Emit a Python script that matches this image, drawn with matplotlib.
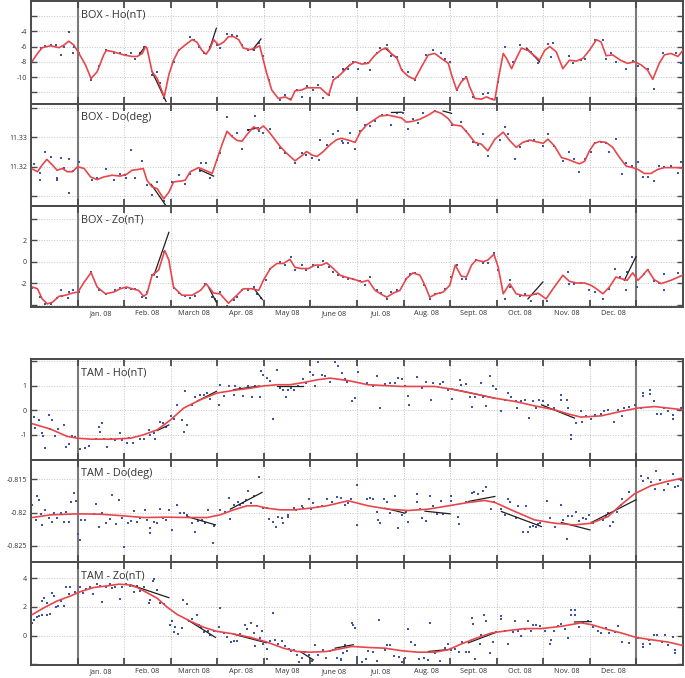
import matplotlib
matplotlib.use("Agg")
import matplotlib.pyplot as plt
from matplotlib.transforms import blended_transform_factory

MONTHS = ["Jan. 08", "Feb. 08", "March 08", "Apr. 08", "May 08", "June 08",
          "Jul. 08", "Aug. 08", "Sept. 08", "Oct. 08", "Nov. 08", "Dec. 08"]
TITLES = ["BOX - Ho(nT)", "BOX - Do(deg)", "BOX - Zo(nT)",
          "TAM - Ho(nT)", "TAM - Do(deg)", "TAM - Zo(nT)"]

# ---------------- BOX Ho ----------------
BOX_HO_CURVE = [(-0.97,-7.9),(-0.86,-6.9),(-0.76,-6.15),(-0.58,-5.9),(-0.4,-6.15),(-0.29,-5.8),(-0.19,-5.3),(-0.08,-5.8),
 (0.03,-6.9),(0.17,-8.4),(0.29,-10.2),(0.42,-9.3),(0.56,-7.1),(0.62,-6.5),(0.78,-6.7),(0.99,-7.1),(1.17,-7.3),(1.28,-7.3),
 (1.39,-6.9),(1.46,-6.0),(1.49,-6.2),(1.6,-9.3),(1.71,-10.2),(1.86,-12.6),(1.96,-9.7),(2.06,-7.8),(2.17,-6.5),(2.31,-5.8),
 (2.46,-5.1),(2.56,-5.4),(2.67,-6.5),(2.76,-7.0),(2.85,-6.2),(2.92,-5.1),(3.03,-5.8),(3.14,-5.4),(3.24,-4.7),(3.35,-4.7),
 (3.46,-5.1),(3.56,-6.2),(3.71,-6.4),(3.81,-6.2),(3.91,-5.9),(3.99,-7.8),(4.06,-9.5),(4.17,-11.7),(4.31,-12.8),(4.46,-12.6),
 (4.58,-13.0),(4.67,-11.8),(4.81,-11.7),(4.92,-11.4),(5.06,-11.4),(5.21,-11.4),(5.39,-12.4),(5.49,-10.4),(5.64,-9.7),
 (5.85,-8.4),(5.96,-8.0),(6.1,-8.3),(6.24,-8.2),(6.39,-7.1),(6.53,-6.4),(6.64,-6.2),(6.74,-7.0),(6.85,-7.4),(6.96,-9.1),
 (7.1,-9.9),(7.24,-10.3),(7.39,-8.6),(7.53,-7.1),(7.67,-6.9),(7.81,-7.55),(7.96,-8.2),(8.03,-9.7),(8.14,-11.7),(8.24,-10.6),
 (8.35,-10.0),(8.42,-11.3),(8.53,-12.8),(8.67,-12.9),(8.78,-12.6),(8.89,-12.9),(8.96,-13.0),(9.03,-10.4),(9.14,-6.9),
 (9.21,-7.55),(9.32,-8.9),(9.42,-7.55),(9.53,-6.2),(9.67,-6.5),(9.81,-7.2),(9.92,-7.8),(10.03,-6.5),(10.14,-6.0),(10.28,-6.7),
 (10.42,-8.9),(10.56,-7.8),(10.71,-7.9),(10.85,-7.55),(10.99,-6.5),(11.14,-5.1),(11.24,-5.4),(11.35,-7.2),(11.49,-7.1),
 (11.66,-7.8),(11.81,-8.2),(11.96,-8.0),(12.1,-8.4),(12.24,-9.1),(12.35,-10.3),(12.49,-8.2),(12.6,-7.1),(12.74,-6.9),
 (12.89,-7.3),(13.0,-6.5)]
BOX_HO_DOTS = [(-0.97,-8.0),(-0.79,-6.2),(-0.69,-5.9),(-0.58,-5.8),(-0.47,-5.8),(-0.36,-7.1),(-0.29,-6.0),(-0.19,-4.1),
 (-0.08,-6.0),(-0.09,-6.8),(0.03,-6.9),(0.28,-10.4),(0.46,-8.6),(0.6,-6.5),(0.78,-6.9),(0.92,-6.9),(1.03,-7.1),(1.15,-6.8),
 (1.24,-7.6),(1.35,-6.9),(1.42,-6.0),(1.6,-9.7),(1.71,-9.3),(1.78,-10.8),(1.86,-12.8),(2.06,-8.0),(2.17,-6.5),(2.42,-4.8),
 (2.49,-5.1),(2.6,-6.0),(2.71,-6.9),(2.85,-6.0),(2.99,-5.8),(3.06,-6.2),(3.21,-4.3),(3.31,-4.5),(3.42,-4.6),(3.53,-5.8),
 (3.67,-6.5),(3.78,-6.5),(3.89,-5.6),(3.99,-7.3),(4.1,-10.4),(4.35,-13.0),(4.46,-12.4),(4.56,-12.9),(4.71,-11.7),(4.81,-12.6),
 (4.92,-11.2),(5.06,-11.7),(5.17,-11.1),(5.26,-12.8),(5.39,-12.4),(5.49,-10.0),(5.6,-10.0),(5.71,-8.9),(5.81,-8.9),(5.92,-8.0),
 (6.03,-8.9),(6.17,-8.2),(6.24,-8.2),(6.28,-9.1),(6.42,-6.9),(6.49,-6.2),(6.64,-5.8),(6.74,-7.3),(6.85,-7.4),(6.96,-9.1),
 (7.1,-9.3),(7.24,-10.4),(7.49,-7.1),(7.64,-6.5),(7.81,-6.9),(7.88,-7.6),(7.99,-8.0),(8.14,-11.7),(8.28,-10.2),(8.35,-10.0),
 (8.49,-12.6),(8.71,-12.2),(8.81,-12.1),(8.89,-12.9),(9.03,-10.6),(9.17,-6.1),(9.35,-8.0),(9.49,-5.8),(9.64,-6.4),(9.74,-6.7),
 (9.89,-8.2),(10.1,-5.7),(10.21,-5.6),(10.17,-7.4),(10.56,-7.3),(10.64,-8.2),(10.8,-7.7),(10.89,-7.6),(11.1,-5.2),(11.28,-5.1),
 (11.35,-7.6),(11.46,-6.9),(11.56,-8.0),(11.78,-8.9),(11.92,-7.9),(12.03,-8.6),(12.24,-8.9),(12.38,-11.5),(12.56,-6.9),
 (12.85,-6.9),(12.96,-8.2)]
BOX_HO_TRENDS = [(1.6,-9.3,1.9,-13.2),(2.83,-6.4,2.98,-3.6),(3.76,-6.4,3.94,-5.0),(1.33,-7.0,1.45,-6.0),
 (9.64,-6.2,9.92,-8.0),(6.6,-6.2,6.85,-7.5),(5.7,-9.2,5.85,-8.4)]

# ---------------- BOX Do ----------------
BOX_DO_CURVE = [(-0.97,11.3192),(-0.86,11.3183),(-0.76,11.3206),(-0.66,11.3225),(-0.54,11.3206),(-0.44,11.3188),
 (-0.33,11.3194),(-0.22,11.3183),(-0.11,11.3183),(0.0,11.32),(0.14,11.3194),(0.28,11.3165),(0.42,11.3156),(0.56,11.3165),
 (0.74,11.3171),(0.92,11.3168),(1.06,11.3175),(1.17,11.3188),(1.31,11.3191),(1.41,11.3194),(1.49,11.3154),(1.6,11.3131),
 (1.71,11.3125),(1.85,11.309),(1.96,11.3113),(2.06,11.3148),(2.21,11.3151),(2.31,11.3154),(2.42,11.3183),(2.6,11.3197),
 (2.74,11.3188),(2.89,11.3177),(2.99,11.3223),(3.1,11.3275),(3.21,11.3321),(3.31,11.3304),(3.42,11.329),(3.53,11.3287),
 (3.64,11.331),(3.78,11.3336),(3.89,11.3327),(3.99,11.3339),(4.1,11.3321),(4.24,11.3292),(4.35,11.3269),(4.49,11.3246),
 (4.67,11.322),(4.81,11.3237),(4.92,11.3252),(5.03,11.324),(5.14,11.3235),(5.28,11.3252),(5.42,11.3275),(5.56,11.3292),
 (5.67,11.3297),(5.85,11.3289),(5.96,11.3283),(6.07,11.3318),(6.21,11.3343),(6.35,11.3358),(6.49,11.3373),(6.67,11.3376),
 (6.85,11.337),(6.96,11.3366),(7.06,11.3352),(7.2,11.3355),(7.35,11.3362),(7.53,11.3376),(7.67,11.339),(7.81,11.3382),
 (7.96,11.3364),(8.06,11.3343),(8.24,11.3339),(8.39,11.3312),(8.53,11.3283),(8.67,11.3277),(8.81,11.3254),(8.96,11.3294),
 (9.14,11.3318),(9.28,11.3289),(9.42,11.3266),(9.56,11.3283),(9.71,11.3291),(9.85,11.3285),(10.0,11.328),(10.1,11.3294),
 (10.24,11.3271),(10.39,11.3231),(10.53,11.3225),(10.67,11.3216),(10.78,11.321),(10.89,11.3219),(10.99,11.3254),
 (11.1,11.328),(11.21,11.3286),(11.35,11.3283),(11.49,11.3266),(11.64,11.3231),(11.78,11.3202),(11.92,11.3197),
 (12.03,11.3191),(12.17,11.3177),(12.31,11.3177),(12.46,11.3191),(12.6,11.3197),(12.74,11.3197),(12.89,11.3197),(13.0,11.3194)]
BOX_DO_DOTS = [(-0.94,11.3209),(-0.81,11.3177),(-0.81,11.3154),(-0.7,11.3249),(-0.58,11.3232),(-0.45,11.316),(-0.45,11.3154),
 (-0.36,11.3229),(-0.29,11.3194),(-0.19,11.3225),(-0.19,11.311),(-0.1,11.3186),(0.03,11.3216),(0.31,11.3156),(0.42,11.3163),
 (0.6,11.3193),(0.78,11.3156),(0.92,11.3175),(1.01,11.3171),(1.03,11.316),(1.15,11.3258),(1.24,11.3163),(1.39,11.3221),
 (1.49,11.3136),(1.6,11.3102),(1.71,11.3148),(1.85,11.3084),(2.03,11.3148),(2.17,11.3171),(2.31,11.314),(2.42,11.3175),
 (2.64,11.3214),(2.62,11.3186),(2.76,11.3214),(2.85,11.3163),(2.99,11.3223),(3.06,11.3246),(3.21,11.3371),(3.31,11.3304),
 (3.42,11.3316),(3.53,11.326),(3.67,11.3325),(3.81,11.3373),(3.89,11.3321),(3.99,11.3316),(4.14,11.333),(4.35,11.3264),
 (4.46,11.3246),(4.67,11.3212),(4.81,11.3246),(4.91,11.324),(5.03,11.3229),(5.18,11.3223),(5.21,11.3292),(5.35,11.3275),
 (5.49,11.331),(5.6,11.3321),(5.71,11.3281),(5.81,11.3281),(5.67,11.3287),(5.85,11.3316),(5.96,11.326),(6.07,11.3321),
 (6.17,11.3344),(6.28,11.3339),(6.39,11.3356),(6.53,11.3376),(6.64,11.3376),(6.74,11.3344),(6.85,11.3385),(6.99,11.3383),
 (7.1,11.333),(7.2,11.3362),(7.31,11.3348),(7.42,11.3383),(7.67,11.3391),(7.89,11.3414),(8.03,11.3344),(8.24,11.3352),
 (8.35,11.3321),(8.49,11.3283),(8.6,11.3275),(8.71,11.331),(8.81,11.3237),(9.06,11.3292),(9.17,11.3336),(9.24,11.331),
 (9.39,11.3225),(9.49,11.3267),(9.67,11.3287),(9.81,11.329),(9.99,11.3272),(10.1,11.3313),(10.24,11.3272),(10.42,11.3218),
 (10.56,11.325),(10.66,11.3225),(10.77,11.3183),(10.89,11.3225),(11.03,11.3249),(11.1,11.3281),(11.24,11.3283),
 (11.35,11.3281),(11.42,11.3249),(11.56,11.3295),(11.69,11.3175),(11.78,11.3214),(11.91,11.3202),(12.03,11.3217),
 (12.14,11.3165),(12.24,11.3165),(12.38,11.315),(12.49,11.3202),(12.6,11.32),(12.74,11.3202),(12.89,11.3179),(12.96,11.3217)]
BOX_DO_TRENDS = [(1.58,11.3140,1.92,11.3062),(2.62,11.3190,2.92,11.3168),(3.66,11.3325,3.88,11.3333),
 (6.74,11.3385,6.96,11.3386),(7.85,11.3390,8.03,11.3382)]

# ---------------- BOX Zo ----------------
BOX_ZO_CURVE = [(-0.97,-2.34),(-0.86,-2.5),(-0.76,-3.44),(-0.65,-3.9),(-0.54,-3.75),(-0.4,-3.2),(-0.26,-3.1),(-0.11,-2.9),
 (0.01,-2.8),(0.14,-1.9),(0.29,-1.0),(0.42,-2.34),(0.6,-2.97),(0.78,-2.8),(0.92,-2.5),(1.05,-2.34),(1.17,-2.5),(1.31,-2.65),
 (1.42,-3.2),(1.49,-2.97),(1.6,-1.25),(1.74,-0.78),(1.87,1.03),(1.96,0.16),(2.06,-2.34),(2.24,-3.1),(2.46,-3.1),(2.64,-2.65),
 (2.76,-2.03),(2.92,-2.9),(3.06,-2.97),(3.24,-3.84),(3.42,-3.1),(3.56,-2.5),(3.74,-2.5),(3.89,-2.65),(3.99,-1.72),(4.14,-0.63),
 (4.28,-0.16),(4.42,-0.16),(4.56,0.22),(4.67,-0.53),(4.81,-0.63),(4.96,-0.63),(5.1,-0.31),(5.24,-0.31),(5.35,-0.1),
 (5.49,-0.63),(5.64,-1.25),(5.74,-1.4),(5.96,-1.66),(6.1,-1.88),(6.24,-1.72),(6.39,-2.66),(6.53,-3.03),(6.64,-3.28),
 (6.78,-2.9),(6.92,-2.66),(7.06,-1.56),(7.2,-1.03),(7.35,-1.25),(7.46,-2.19),(7.56,-3.28),(7.71,-2.97),(7.85,-2.81),
 (7.99,-2.19),(8.11,-0.31),(8.24,-1.34),(8.35,-1.41),(8.46,-0.31),(8.56,0.16),(8.71,0.0),(8.81,0.16),(8.94,0.69),(9.03,-0.47),
 (9.14,-2.97),(9.28,-2.03),(9.42,-2.97),(9.56,-3.13),(9.71,-3.13),(9.89,-2.91),(10.06,-3.44),(10.21,-2.5),(10.42,-1.25),
 (10.56,-1.81),(10.71,-1.97),(10.89,-1.97),(11.03,-2.19),(11.14,-2.5),(11.28,-2.97),(11.42,-2.34),(11.56,-1.41),(11.67,-1.56),
 (11.8,-1.72),(11.92,-1.03),(12.03,-1.72),(12.14,-1.25),(12.24,-0.72),(12.38,-1.66),(12.53,-2.03),(12.74,-1.72),(12.99,-1.25)]
BOX_ZO_DOTS = [(-0.97,-2.4),(-0.81,-3.28),(-0.69,-3.9),(-0.58,-3.9),(-0.45,-3.34),(-0.35,-2.66),(-0.33,-3.13),(-0.21,-3.34),
 (-0.19,-2.81),(-0.09,-2.6),(0.03,-2.81),(0.29,-0.94),(0.46,-2.6),(0.6,-2.97),(0.81,-2.66),(0.92,-2.41),(1.03,-2.41),
 (1.15,-2.56),(1.24,-2.56),(1.39,-3.22),(1.46,-3.34),(1.49,-2.81),(1.6,-1.25),(1.71,-1.41),(1.85,0.94),(2.06,-2.41),
 (2.17,-2.9),(2.31,-3.13),(2.42,-3.34),(2.53,-3.13),(2.74,-2.03),(2.89,-3.22),(2.96,-3.44),(3.06,-2.81),(3.21,-4.06),
 (3.35,-3.53),(3.42,-3.22),(3.53,-2.6),(3.67,-2.6),(3.79,-2.34),(3.85,-2.97),(3.94,-3.34),(4.04,-1.72),(4.14,-0.63),
 (4.35,0.0),(4.46,-0.31),(4.58,0.47),(4.67,-0.78),(4.81,-0.31),(4.91,-0.78),(5.06,-0.31),(5.17,-0.53),(5.26,0.09),
 (5.39,-0.47),(5.49,-0.94),(5.6,-1.25),(5.71,-1.41),(5.81,-1.56),(5.92,-1.56),(6.07,-1.78),(6.17,-2.19),(6.28,-1.41),
 (6.42,-2.66),(6.51,-2.9),(6.64,-3.44),(6.74,-2.81),(6.85,-2.66),(7.06,-1.56),(7.14,-1.16),(7.24,-1.03),(7.44,-2.19),
 (7.56,-3.44),(7.67,-2.97),(7.78,-2.9),(7.89,-2.5),(8.01,-1.41),(8.14,-0.31),(8.26,-1.56),(8.35,-1.56),(8.56,0.16),
 (8.71,-0.09),(8.81,-0.09),(8.94,0.78),(9.03,-0.72),(9.17,-3.44),(9.28,-1.72),(9.28,-2.34),(9.49,-3.13),(9.6,-2.97),
 (9.73,-3.59),(9.85,-2.97),(10.09,-3.59),(10.53,-0.94),(10.56,-2.03),(10.67,-2.03),(10.81,-1.97),(10.99,-2.66),(11.1,-2.81),
 (11.28,-3.44),(11.42,-2.5),(11.54,-0.63),(11.64,-1.41),(11.78,-2.6),(11.8,-0.94),(11.91,0.47),(12.01,-2.34),(12.16,-1.09),
 (12.24,-0.72),(12.38,-1.78),(12.49,-1.97),(12.6,-2.6),(12.6,-1.09),(12.89,-1.03),(12.99,-1.25)]
BOX_ZO_TRENDS = [(1.64,-1.25,1.96,2.72),(2.81,-2.34,2.98,-3.75),(3.79,-2.5,3.97,-3.5),(9.67,-3.44,9.99,-1.88),
 (11.74,-1.72,11.99,0.47)]

# ---------------- TAM Ho ----------------
TAM_HO_CURVE = [(-0.97,-0.54),(-0.58,-0.76),(-0.22,-1.06),(0.0,-1.13),(0.28,-1.17),(0.71,-1.17),(1.14,-1.13),(1.42,-0.99),
 (1.71,-0.79),(2.0,-0.38),(2.28,0.1),(2.64,0.44),(2.99,0.71),(3.35,0.82),(3.71,0.91),(3.99,1.0),(4.28,1.05),(4.56,1.05),
 (4.85,1.14),(5.14,1.25),(5.42,1.32),(5.81,1.22),(6.24,1.05),(6.96,0.98),(7.67,0.98),(8.03,0.87),(8.53,0.68),(8.96,0.5),
 (9.39,0.37),(9.81,0.19),(10.24,0.03),(10.53,-0.14),(10.81,-0.27),(11.24,-0.22),(11.66,-0.04),(12.03,0.1),(12.39,0.16),(13.0,0.03)]
TAM_HO_DOTS = [(-0.94,-0.27),(-0.91,-0.72),(-0.83,-0.38),(-0.76,-0.93),(-0.74,-1.06),(-0.69,-1.54),(-0.61,-0.18),(-0.59,-0.76),
 (-0.54,-0.38),(-0.49,-1.03),(-0.41,-0.76),(-0.3,-0.59),(-0.24,-1.47),(-0.19,-1.36),(-0.11,-1.06),(-0.06,-1.09),(0.06,-1.58),
 (0.17,-1.54),(0.24,-1.44),(0.39,-1.17),(0.46,-0.68),(0.48,-0.86),(0.53,-0.52),(0.56,-1.17),(0.64,-1.47),(0.71,-1.17),
 (0.81,-1.2),(0.92,-0.93),(0.96,-1.2),(1.06,-1.33),(1.1,-1.13),(1.19,-1.33),(1.35,-1.17),(1.42,-1.17),(1.53,-0.79),
 (1.56,-0.99),(1.64,-0.9),(1.67,-1.17),(1.76,-0.45),(1.84,-0.52),(1.89,-0.68),(2.0,-0.24),(2.06,-0.35),(2.14,0.23),
 (2.24,-0.38),(2.28,-0.86),(2.31,0.78),(2.34,-0.59),(2.46,0.23),(2.53,0.54),(2.62,0.64),(2.71,0.64),(2.78,0.71),(2.85,0.46),
 (3.04,0.23),(3.06,1.05),(3.15,0.6),(3.26,1.01),(3.35,0.64),(3.39,0.98),(3.49,0.91),(3.56,0.6),(3.66,0.98),(3.74,0.54),
 (3.81,0.98),(3.91,0.57),(3.94,1.63),(3.98,1.46),(4.06,1.32),(4.14,1.22),(4.2,-0.35),(4.28,1.66),(4.35,0.91),(4.42,0.84),
 (4.48,0.57),(4.51,0.84),(4.58,0.91),(4.64,0.84),(4.74,0.98),(4.85,1.28),(4.91,1.14),(4.99,1.59),(5.06,1.46),(5.1,0.98),
 (5.17,1.96),(5.24,1.46),(5.31,1.39),(5.42,1.18),(5.53,1.96),(5.6,1.8),(5.68,1.52),(5.74,1.28),(5.78,1.18),(5.89,0.37),
 (5.96,0.5),(6.03,1.59),(6.21,1.12),(6.35,1.01),(6.42,1.41),(6.49,0.1),(6.6,1.09),(6.71,1.12),(6.81,1.14),(6.89,1.32),
 (6.96,1.28),(7.03,1.01),(7.1,0.6),(7.11,0.23),(7.28,1.36),(7.4,0.91),(7.49,1.18),(7.59,0.44),(7.64,1.14),(7.79,1.09),
 (7.85,1.18),(7.96,0.84),(8.03,0.46),(8.21,1.25),(8.24,1.05),(8.35,1.09),(8.42,0.57),(8.47,0.16),(8.53,0.57),(8.66,1.14),
 (8.71,0.54),(8.78,0.19),(8.85,1.41),(8.92,1.01),(8.99,0.87),(9.1,-0.04),(9.17,0.44),(9.24,0.71),(9.31,0.54),(9.42,0.37),
 (9.44,0.1),(9.53,0.37),(9.6,0.41),(9.69,-0.31),(9.78,0.37),(9.85,0.1),(9.9,0.44),(9.99,0.37),(10.1,0.23),(10.16,0.05),
 (10.24,0.1),(10.39,0.64),(10.39,0.44),(10.51,0.41),(10.53,0.1),(10.6,-0.99),(10.6,-1.17),(10.71,-0.52),(10.8,-0.04),
 (10.83,-0.45),(10.92,-0.24),(11.03,-0.35),(11.1,-0.18),(11.24,-0.14),(11.3,-0.04),(11.39,0.0),(11.51,-0.49),(11.6,0.0),
 (11.69,-0.22),(11.74,0.1),(11.85,0.14),(11.96,0.23),(12.09,0.1),(12.14,0.73),(12.14,0.6),(12.3,0.84),(12.3,0.68),
 (12.37,0.37),(12.44,-0.14),(12.53,-0.14),(12.6,0.1),(12.67,-0.04),(12.78,-0.35),(12.78,-0.18),(12.89,0.03),(12.96,0.1)]
TAM_HO_TRENDS = [(1.71,-0.82,1.96,-0.59),(2.56,0.37,2.98,0.78),(3.35,0.85,3.91,1.0),(4.28,0.98,4.85,0.98),
 (8.03,0.88,8.96,0.5),(9.96,0.23,10.67,-0.31)]

# ---------------- TAM Do ----------------
TAM_DO_CURVE = [(-0.97,-0.82075),(-0.58,-0.82035),(0.0,-0.8202),(0.49,-0.82025),(0.99,-0.8205),(1.42,-0.82075),(1.92,-0.8207),
 (2.42,-0.82075),(2.78,-0.82075),(3.06,-0.82035),(3.35,-0.8196),(3.64,-0.819),(3.85,-0.819),(4.06,-0.81935),(4.35,-0.8196),
 (4.64,-0.8196),(5.0,-0.81935),(5.35,-0.819),(5.81,-0.81825),(6.24,-0.819),(6.67,-0.8195),(7.1,-0.8197),(7.53,-0.8195),
 (7.96,-0.819),(8.39,-0.8185),(8.74,-0.8182),(8.96,-0.8185),(9.39,-0.81985),(9.81,-0.8211),(10.24,-0.8216),(10.67,-0.82185),
 (11.03,-0.8216),(11.39,-0.8206),(11.67,-0.81885),(11.96,-0.8172),(12.31,-0.816),(12.66,-0.81535),(12.99,-0.81485)]
TAM_DO_DOTS = [(-0.97,-0.81885),(-0.9,-0.8211),(-0.87,-0.8176),(-0.83,-0.8181),(-0.78,-0.8202),(-0.76,-0.82185),
 (-0.69,-0.8196),(-0.61,-0.82085),(-0.54,-0.82135),(-0.51,-0.8201),(-0.44,-0.82085),(-0.36,-0.8201),(-0.29,-0.82135),
 (-0.24,-0.81985),(-0.19,-0.82135),(-0.15,-0.8185),(-0.08,-0.8171),(-0.04,-0.81835),(0.01,-0.8232),(0.05,-0.8241),
 (0.08,-0.8211),(0.17,-0.8211),(0.35,-0.8202),(0.39,-0.8188),(0.46,-0.8222),(0.53,-0.82),(0.6,-0.8215),(0.69,-0.821),
 (0.74,-0.81735),(0.82,-0.8217),(0.89,-0.8181),(0.96,-0.82085),(0.99,-0.8252),(1.09,-0.8215),(1.14,-0.8212),(1.21,-0.81975),
 (1.28,-0.82135),(1.35,-0.82085),(1.44,-0.8197),(1.49,-0.8211),(1.55,-0.8231),(1.56,-0.82235),(1.64,-0.82135),(1.71,-0.8215),
 (1.76,-0.8195),(1.84,-0.82085),(1.89,-0.8211),(1.96,-0.8196),(2.03,-0.8226),(2.14,-0.81885),(2.21,-0.82),(2.28,-0.82),
 (2.35,-0.82035),(2.46,-0.8215),(2.53,-0.82285),(2.58,-0.8212),(2.67,-0.8211),(2.74,-0.8215),(2.81,-0.8196),(2.91,-0.8245),
 (2.92,-0.822),(3.06,-0.8196),(3.17,-0.81985),(3.26,-0.81785),(3.28,-0.821),(3.35,-0.81885),(3.44,-0.8185),(3.49,-0.81885),
 (3.56,-0.8186),(3.62,-0.8182),(3.67,-0.81685),(3.72,-0.8186),(3.79,-0.8176),(3.89,-0.8147),(3.99,-0.81935),(4.06,-0.81935),
 (4.12,-0.821),(4.19,-0.82135),(4.26,-0.8222),(4.31,-0.8207),(4.39,-0.82085),(4.42,-0.8215),(4.51,-0.8206),(4.51,-0.82035),
 (4.64,-0.81935),(4.69,-0.8197),(4.81,-0.819),(4.85,-0.81935),(4.96,-0.818),(5.01,-0.8195),(5.06,-0.8186),(5.17,-0.8192),
 (5.24,-0.819),(5.35,-0.818),(5.46,-0.8185),(5.56,-0.8177),(5.66,-0.81785),(5.74,-0.81885),(5.81,-0.8186),(5.88,-0.818),
 (5.99,-0.81585),(6.01,-0.82185),(6.21,-0.818),(6.28,-0.81785),(6.35,-0.818),(6.42,-0.81985),(6.46,-0.8211),(6.49,-0.8215),
 (6.59,-0.818),(6.64,-0.8185),(6.71,-0.82),(6.81,-0.8176),(6.87,-0.82235),(6.96,-0.82035),(7.06,-0.81985),(7.1,-0.82135),
 (7.28,-0.8172),(7.28,-0.8185),(7.35,-0.8195),(7.4,-0.82085),(7.49,-0.8212),(7.56,-0.8175),(7.64,-0.819),(7.71,-0.8202),
 (7.8,-0.81835),(7.85,-0.8202),(8.01,-0.8175),(8.01,-0.81835),(8.17,-0.8206),(8.18,-0.8217),(8.35,-0.8185),(8.46,-0.8171),
 (8.51,-0.817),(8.6,-0.8172),(8.71,-0.81685),(8.78,-0.8162),(8.87,-0.8195),(8.94,-0.8185),(9.1,-0.8195),(9.17,-0.82035),
 (9.24,-0.818),(9.28,-0.8185),(9.42,-0.82085),(9.46,-0.819),(9.56,-0.82285),(9.63,-0.819),(9.67,-0.82285),(9.71,-0.8222),
 (9.78,-0.822),(9.85,-0.8222),(9.89,-0.8217),(9.94,-0.8216),(10.09,-0.81835),(10.14,-0.82085),(10.26,-0.8222),
 (10.39,-0.81885),(10.42,-0.8211),(10.51,-0.824),(10.53,-0.8205),(10.61,-0.8205),(10.71,-0.81985),(10.76,-0.8212),
 (10.85,-0.82085),(10.92,-0.821),(10.99,-0.82035),(11.06,-0.8215),(11.28,-0.8211),(11.35,-0.8205),(11.39,-0.82),
 (11.44,-0.822),(11.49,-0.82135),(11.59,-0.81985),(11.66,-0.81885),(11.69,-0.818),(11.85,-0.817),(12.09,-0.8145),
 (12.14,-0.81535),(12.24,-0.81485),(12.31,-0.8155),(12.39,-0.8165),(12.42,-0.81385),(12.51,-0.8152),(12.6,-0.8166),
 (12.67,-0.8157),(12.78,-0.8142),(12.83,-0.8162),(12.89,-0.816),(12.96,-0.8151)]
TAM_DO_TRENDS = [(2.35,-0.8206,2.96,-0.82185),(3.28,-0.8195,3.96,-0.817),(6.6,-0.81935,7.03,-0.8201),
 (7.46,-0.8198,8.0,-0.8202),(8.39,-0.81835,8.96,-0.8176),(9.1,-0.81985,9.96,-0.8221),(10.39,-0.8215,11.0,-0.8226),
 (11.03,-0.8215,11.99,-0.8181)]

# ---------------- TAM Zo ----------------
TAM_ZO_CURVE = [(-0.97,1.47),(-0.72,1.94),(-0.44,2.41),(-0.15,2.76),(0.06,3.06),(0.35,3.35),(0.64,3.46),(0.89,3.58),(1.1,3.53),
 (1.28,3.35),(1.49,2.99),(1.71,2.6),(1.92,1.99),(2.14,1.47),(2.42,1.01),(2.71,0.58),(2.99,0.3),(3.35,0.12),(3.71,-0.12),
 (4.06,-0.44),(4.42,-0.87),(4.71,-1.1),(5.0,-1.15),(5.35,-1.1),(5.89,-0.75),(6.24,-0.82),(6.6,-0.87),(6.96,-1.05),(7.31,-1.15),
 (7.67,-1.15),(7.96,-0.98),(8.24,-0.58),(8.53,-0.21),(8.89,0.19),(9.24,0.35),(9.6,0.49),(9.96,0.49),(10.39,0.65),(10.81,0.89),
 (11.03,0.77),(11.39,0.42),(11.67,0.19),(11.99,-0.12),(12.31,-0.28),(12.67,-0.44),(12.99,-0.68)]
TAM_ZO_DOTS = [(-0.97,0.89),(-0.94,1.12),(-0.88,1.29),(-0.83,1.36),(-0.76,1.43),(-0.76,2.41),(-0.72,2.6),(-0.66,1.47),
 (-0.65,2.29),(-0.59,1.52),(-0.54,2.99),(-0.51,2.76),(-0.47,1.99),(-0.42,2.06),(-0.36,2.41),(-0.29,2.06),(-0.24,3.35),
 (-0.19,2.88),(-0.16,3.39),(-0.06,3.06),(0.05,3.35),(0.12,2.99),(0.19,3.23),(0.26,3.39),(0.34,2.92),(0.42,3.58),(0.49,3.46),
 (0.53,2.36),(0.6,3.39),(0.69,3.58),(0.74,3.3),(0.81,3.39),(0.91,2.53),(0.96,3.35),(1.03,3.58),(1.12,3.46),(1.21,3.06),
 (1.28,3.46),(1.35,3.11),(1.42,3.35),(1.54,2.29),(1.56,2.46),(1.62,3.77),(1.65,3.93),(1.71,3.16),(1.78,2.29),(1.85,2.18),
 (1.99,0.77),(2.03,1.01),(2.06,0.26),(2.1,0.58),(2.16,0.12),(2.24,0.54),(2.26,2.46),(2.35,2.18),(2.39,1.01),(2.46,1.19),
 (2.56,1.47),(2.6,0.73),(2.66,0.58),(2.72,0.26),(2.79,0.35),(2.84,0.07),(2.92,0.35),(3.04,0.58),(3.05,1.94),(3.14,0.19),
 (3.21,-0.12),(3.29,-0.44),(3.35,-0.35),(3.42,-0.4),(3.49,0.12),(3.6,0.77),(3.64,0.49),(3.72,0.89),(3.78,0.19),(3.81,-0.75),
 (3.85,0.65),(3.92,-0.16),(3.96,0.3),(3.99,-0.58),(4.06,-1.61),(4.06,-0.91),(4.14,-0.4),(4.2,1.59),(4.24,-0.28),(4.31,-0.58),
 (4.39,-0.35),(4.46,-0.75),(4.53,-0.91),(4.58,-1.1),(4.64,-0.98),(4.71,-1.33),(4.76,-1.85),(4.81,-1.57),(4.89,-1.15),
 (4.96,-1.33),(5.03,-1.75),(5.1,-0.63),(5.17,-1.33),(5.26,-0.98),(5.34,-1.57),(5.42,-1.1),(5.49,-0.98),(5.56,-1.52),
 (5.65,-1.68),(5.71,-1.22),(5.78,-1.1),(5.66,-1.61),(5.74,-0.63),(5.89,0.89),(5.92,0.73),(5.96,0.54),(6.01,-1.45),
 (6.1,-1.85),(6.19,-1.61),(6.24,-1.1),(6.35,-1.15),(6.42,-1.75),(6.48,1.12),(6.6,-0.98),(6.64,-0.68),(6.71,-0.68),
 (6.8,-1.38),(6.91,-1.45),(6.96,-1.8),(7.03,-1.57),(7.09,0.49),(7.17,-0.44),(7.24,-0.68),(7.33,-1.61),(7.44,-1.52),
 (7.53,-1.68),(7.56,0.89),(7.67,-1.22),(7.78,-1.75),(7.89,-0.87),(7.96,-0.58),(8.01,-0.98),(8.11,-0.91),(8.19,-1.15),
 (8.26,-0.44),(8.33,-1.15),(8.41,-1.15),(8.46,1.24),(8.5,0.82),(8.53,-1.61),(8.64,-0.58),(8.67,0.02),(8.73,1.43),(8.78,1.01),
 (8.85,-1.22),(8.92,-0.44),(8.99,0.26),(9.09,1.36),(9.1,1.19),(9.17,0.35),(9.24,-0.58),(9.35,0.26),(9.4,1.01),(9.46,0.35),
 (9.53,-0.05),(9.6,0.49),(9.67,1.01),(9.73,0.3),(9.78,0.73),(9.85,0.73),(9.92,0.65),(10.03,0.3),(10.14,-0.58),(10.17,-0.28),
 (10.24,0.35),(10.31,0.65),(10.39,0.82),(10.46,0.49),(10.53,-0.16),(10.6,1.75),(10.6,1.43),(10.69,1.75),(10.69,1.43),
 (10.76,0.58),(10.86,0.89),(10.96,1.01),(11.06,0.58),(11.17,0.35),(11.24,0.19),(11.35,0.54),(11.42,0.19),(11.53,0.26),
 (11.6,0.65),(11.69,-0.44),(11.85,-0.51),(12.03,-0.16),(12.14,-0.58),(12.14,-0.82),(12.28,-0.28),(12.3,-0.58),(12.38,0.02),
 (12.44,0.07),(12.54,-0.44),(12.61,0.07),(12.67,-0.68),(12.78,-0.12),(12.83,-0.98),(12.83,-1.22)]
TAM_ZO_TRENDS = [(1.14,3.53,1.96,2.64),(2.35,1.12,2.96,-0.12),(3.35,0.1,4.06,-0.5),(4.78,-1.1,5.06,-1.68),
 (5.53,-0.87,5.92,-0.63),(7.53,-1.1,8.0,-0.95),(8.39,-0.5,8.96,0.2),(10.67,0.95,11.03,0.98)]

# y ranges, ticks and tick labels per panel
YLIMS = [(-13.53, -0.03), (11.3066, 11.3414), (-4.19, 5.16), (-2.02, 2.1), (-0.8274, -0.81215), (-2.04, 5.12)]
YTICKS = [[-12, -10, -8, -6, -4, -2], [11.31, 11.32, 11.33, 11.34], [-4, -2, 0, 2, 4],
          [-2, -1, 0, 1, 2], [-0.825, -0.82, -0.815], [-2, 0, 2, 4]]
YLABELS = [["", "-10", "-8", "-6", "-4", ""], ["", "11.32", "11.33", ""], ["", "-2", "0", "2", ""],
           ["", "-1", "0", "1", ""], ["-0.825", "-0.82", "-0.815"], ["", "0", "2", "4"]]

CURVES = [BOX_HO_CURVE, BOX_DO_CURVE, BOX_ZO_CURVE, TAM_HO_CURVE, TAM_DO_CURVE, TAM_ZO_CURVE]
DOTS = [BOX_HO_DOTS, BOX_DO_DOTS, BOX_ZO_DOTS, TAM_HO_DOTS, TAM_DO_DOTS, TAM_ZO_DOTS]
TRENDS = [BOX_HO_TRENDS, BOX_DO_TRENDS, BOX_ZO_TRENDS, TAM_HO_TRENDS, TAM_DO_TRENDS, TAM_ZO_TRENDS]

W, H = 685, 678
# panel pixel extents (top, bottom)
PANEL_PX = [(1, 104), (104, 206), (206, 307), (359, 460), (460, 562), (562, 665)]
LEFT_PX, RIGHT_PX = 31, 683

plt.rcParams['font.family'] = ['Open Sans', 'DejaVu Sans']
fig = plt.figure(figsize=(W / 100, H / 100), dpi=100)
FRAME = '#4a4a4a'
TXT = '#333333'

for i in range(6):
    top, bot = PANEL_PX[i]
    ax = fig.add_axes([LEFT_PX / W, 1 - bot / H, (RIGHT_PX - LEFT_PX) / W, (bot - top) / H])
    ax.set_xlim(-1, 13)
    ax.set_ylim(*YLIMS[i])
    # grid
    for m in range(1, 12):
        ax.axvline(m, color='#c4c4c4', lw=0.7, ls=(0, (1, 1.6)), zorder=0)
    for yv in YTICKS[i]:
        ax.axhline(yv, color='#c4c4c4', lw=0.7, ls=(0, (1, 1.6)), zorder=0)
    ax.axvline(0, color='#7a7a7a', lw=1.5, zorder=1)
    ax.axvline(12, color='#7a7a7a', lw=1.5, zorder=1)
    # data
    dx = [p[0] for p in DOTS[i]]
    dy = [p[1] for p in DOTS[i]]
    ax.scatter(dx, dy, s=4, marker='s', color='#3d55a8', linewidths=0, zorder=2)
    cx = [p[0] for p in CURVES[i]]
    cy = [p[1] for p in CURVES[i]]
    for (x0, y0, x1, y1) in TRENDS[i]:
        ax.plot([x0, x1], [y0, y1], color='#1e1e1e', lw=0.9, zorder=3)
    ax.plot(cx, cy, color='#e8464b', lw=1.2, zorder=4, solid_capstyle='round')
    # frame
    for sp in ax.spines.values():
        sp.set_color(FRAME)
        sp.set_linewidth(1.4)
    # ticks
    ax.set_xticks(range(0, 13))
    ax.set_xticklabels([])
    ax.tick_params(axis='x', which='major', direction='in', top=True, bottom=True,
                   length=5, width=1.3, color=FRAME)
    ax.set_yticks(YTICKS[i])
    ax.set_yticklabels(YLABELS[i])
    ax.tick_params(axis='y', which='major', direction='in', left=True, right=True,
                   length=4, width=1.0, color=FRAME, labelsize=5, labelcolor=TXT, pad=3)
    if i in (2, 5):
        ax.set_xticks([m + 0.5 for m in range(12)], minor=True)
        ax.set_xticklabels(MONTHS, minor=True)
        ax.tick_params(axis='x', which='minor', length=0, labelsize=5.2, labelcolor=TXT, pad=2.5)
    trans = blended_transform_factory(ax.transData, ax.transAxes)
    ax.annotate(TITLES[i], xy=(0.08, 1.0), xycoords=trans, xytext=(0, -6), textcoords='offset points',
                ha='left', va='top', fontsize=7.8, color=TXT, zorder=6)

fig.savefig('out.png', dpi=100)
